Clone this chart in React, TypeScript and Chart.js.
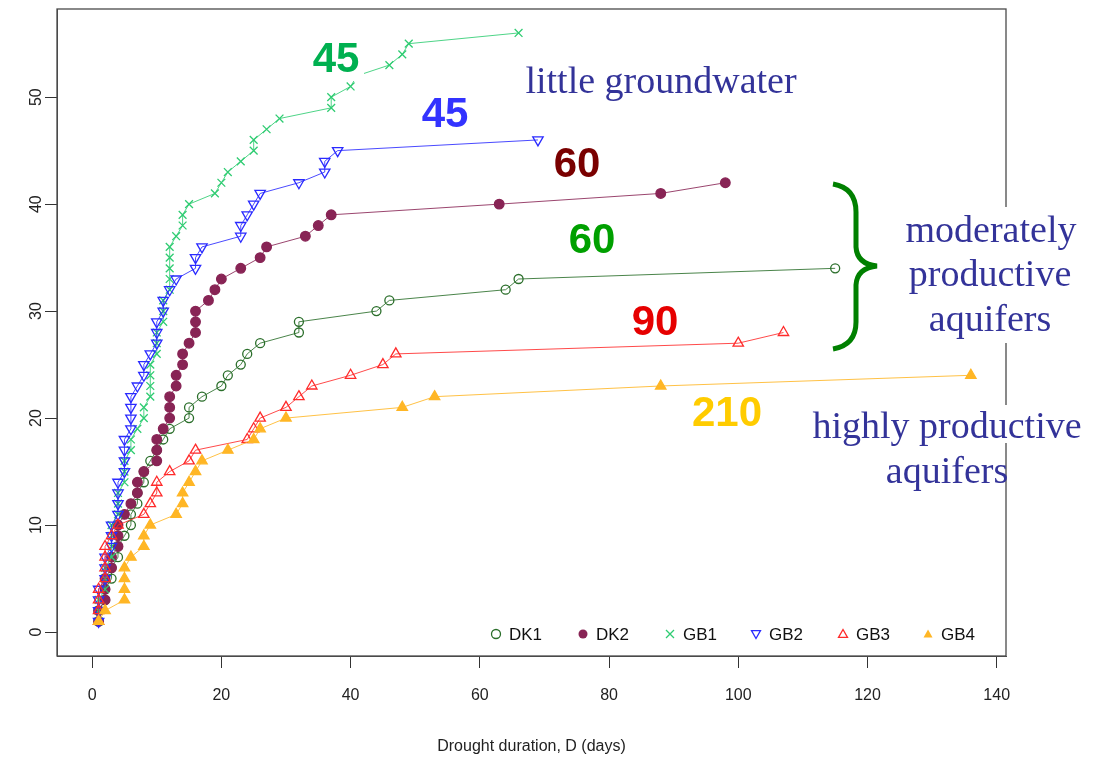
import React, { useEffect, useRef } from 'react';
import { Chart, registerables } from 'chart.js';

Chart.register(...registerables);

// ---------- data ----------
const xTicks = [0, 20, 40, 60, 80, 100, 120, 140];
const yTicks = [0, 10, 20, 30, 40, 50];
const seriesNames = ['DK1', 'DK2', 'GB1', 'GB2', 'GB3', 'GB4'];

const dk1X = [1, 1, 2, 2, 3, 3, 4, 4, 5, 6, 6, 7, 7, 8, 8, 9, 10, 11, 12, 15, 15, 17, 20, 21, 23, 24, 26, 32, 32, 44, 46, 64, 66, 115];
const dk1Y = [1, 2, 3, 4, 5, 6, 7, 8, 9, 10, 11, 12, 13, 14, 15, 16, 17, 18, 19, 20, 21, 22, 23, 24, 25, 26, 27, 28, 29, 30, 31, 32, 33, 34];

const dk2X = [1, 1, 2, 2, 2, 3, 3, 4, 4, 4, 5, 6, 7, 7, 8, 10, 10, 10, 11, 12, 12, 12, 13, 13, 14, 14, 15, 16, 16, 16, 18, 19, 20, 23, 26, 27, 33, 35, 37, 63, 88, 98];
const dk2Y = [1, 2, 3, 4, 5, 6, 7, 8, 9, 10, 11, 12, 13, 14, 15, 16, 17, 18, 19, 20, 21, 22, 23, 24, 25, 26, 27, 28, 29, 30, 31, 32, 33, 34, 35, 36, 37, 38, 39, 40, 41, 42];

const gb1X = [1, 1, 1, 2, 2, 2, 3, 3, 3, 3, 4, 4, 4, 5, 5, 5, 6, 6, 7, 8, 8, 9, 9, 9, 9, 10, 10, 10, 11, 11, 11, 12, 12, 12, 12, 12, 13, 14, 14, 15, 19, 20, 21, 23, 25, 25, 27, 29, 37, 37, 40, 41, 46, 48, 49, 66];
const gb1Y = [1, 2, 3, 4, 5, 6, 7, 8, 9, 10, 11, 12, 13, 14, 15, 16, 17, 18, 19, 20, 21, 22, 23, 24, 25, 26, 27, 28, 29, 30, 31, 32, 33, 34, 35, 36, 37, 38, 39, 40, 41, 42, 43, 44, 45, 46, 47, 48, 49, 50, 51, 52, 53, 54, 55, 56];

const gb2X = [1, 1, 1, 1, 2, 2, 2, 3, 3, 3, 4, 4, 4, 4, 5, 5, 5, 5, 6, 6, 6, 6, 7, 8, 8, 9, 10, 10, 10, 11, 11, 12, 13, 16, 16, 17, 23, 23, 24, 25, 26, 32, 36, 36, 38, 69];
const gb2Y = [1, 2, 3, 4, 5, 6, 7, 8, 9, 10, 11, 12, 13, 14, 15, 16, 17, 18, 19, 20, 21, 22, 23, 24, 25, 26, 27, 28, 29, 30, 31, 32, 33, 34, 35, 36, 37, 38, 39, 40, 41, 42, 43, 44, 45, 46];

const gb3X = [1, 1, 1, 1, 2, 2, 2, 2, 3, 4, 8, 9, 10, 10, 12, 15, 16, 24, 25, 26, 30, 32, 34, 40, 45, 47, 100, 107];
const gb3Y = [1, 2, 3, 4, 5, 6, 7, 8, 9, 10, 11, 12, 13, 14, 15, 16, 17, 18, 19, 20, 21, 22, 23, 24, 25, 26, 27, 28];

const gb4X = [1, 2, 5, 5, 5, 5, 6, 8, 8, 9, 13, 14, 14, 15, 16, 17, 21, 25, 26, 30, 48, 53, 88, 136];
const gb4Y = [1, 2, 3, 4, 5, 6, 7, 8, 9, 10, 11, 12, 13, 14, 15, 16, 17, 18, 19, 20, 21, 22, 23, 24];

const numberLabels = ['45', '45', '60', '60', '90', '210'];
const xTitle = 'Drought duration, D (days)';
const textLittle = 'little groundwater';
const textModerate = ['moderately', 'productive', 'aquifers'];
const textHigh = ['highly productive', 'aquifers'];

// ---------- styles ----------
const colors = ['#2a6e2a', '#882455', '#2fcc72', '#2a2aff', '#ff2a2a', '#ffb625'];
const SANS = '"Liberation Sans", Arial, sans-serif';
const SERIF = '"Liberation Serif", "Times New Roman", serif';

function lineColor(hex: string, a: number) {
  const r = parseInt(hex.slice(1, 3), 16);
  const g = parseInt(hex.slice(3, 5), 16);
  const b = parseInt(hex.slice(5, 7), 16);
  return `rgba(${r},${g},${b},${a})`;
}

function pts(xs: number[], ys: number[]) {
  return xs.map((x, i) => ({ x, y: ys[i] }));
}

function drawMarker(ctx: CanvasRenderingContext2D, kind: string, x: number, y: number, r: number, color: string) {
  ctx.save();
  ctx.strokeStyle = color;
  ctx.fillStyle = color;
  ctx.lineWidth = 1.3;
  ctx.beginPath();
  if (kind === 'circleOpen' || kind === 'circleFill') {
    ctx.arc(x, y, r, 0, Math.PI * 2);
    if (kind === 'circleFill') ctx.fill(); else ctx.stroke();
  } else if (kind === 'cross') {
    ctx.moveTo(x - r, y - r); ctx.lineTo(x + r, y + r);
    ctx.moveTo(x + r, y - r); ctx.lineTo(x - r, y + r);
    ctx.stroke();
  } else if (kind === 'triDown') {
    ctx.moveTo(x - r, y - r * 0.75); ctx.lineTo(x + r, y - r * 0.75); ctx.lineTo(x, y + r); ctx.closePath();
    ctx.stroke();
  } else {
    ctx.moveTo(x - r, y + r * 0.75); ctx.lineTo(x + r, y + r * 0.75); ctx.lineTo(x, y - r); ctx.closePath();
    if (kind === 'triFill') ctx.fill(); else ctx.stroke();
  }
  ctx.restore();
}

const decorPlugin = {
  id: 'decor',
  afterDraw(chart: any) {
    const { ctx, chartArea: a, scales } = chart;
    ctx.save();
    // plot box
    ctx.strokeStyle = '#4a4a4a';
    ctx.lineWidth = 1.3;
    ctx.strokeRect(a.left, a.top, a.right - a.left, a.bottom - a.top);

    // y tick labels (rotated like R)
    ctx.fillStyle = '#222';
    ctx.font = `16px ${SANS}`;
    ctx.textAlign = 'center';
    ctx.textBaseline = 'middle';
    yTicks.forEach((v) => {
      const py = scales.y.getPixelForValue(v);
      ctx.save();
      ctx.translate(37, py);
      ctx.rotate(-Math.PI / 2);
      ctx.fillText(String(v), 0, 0);
      ctx.restore();
    });

    // white backgrounds behind labels
    ctx.fillStyle = '#ffffff';
    ctx.fillRect(306, 32, 58, 49);
    ctx.fillRect(898, 207, 186, 136);
    ctx.fillRect(805, 405, 283, 38);

    // bold numbers
    ctx.font = `bold 42px ${SANS}`;
    ctx.textAlign = 'center';
    ctx.textBaseline = 'alphabetic';
    const numPos = [
      [336, 72, '#00b050'],
      [445, 127, '#3333ff'],
      [577, 177, '#7a0000'],
      [592, 253, '#00a000'],
      [655, 335, '#e60000'],
      [727, 426, '#ffcc00'],
    ];
    numberLabels.forEach((t, i) => {
      ctx.fillStyle = numPos[i][2] as string;
      ctx.fillText(t, numPos[i][0] as number, numPos[i][1] as number);
    });

    // serif texts
    ctx.fillStyle = '#333399';
    ctx.font = `38px ${SERIF}`;
    ctx.fillText(textLittle, 661, 93);
    ctx.fillText(textModerate[0], 991, 242);
    ctx.fillText(textModerate[1], 990, 286);
    ctx.fillText(textModerate[2], 990, 331);
    ctx.fillText(textHigh[0], 947, 438);
    ctx.fillText(textHigh[1], 947, 483);

    // brace
    ctx.strokeStyle = '#008000';
    ctx.lineWidth = 5;
    ctx.lineCap = 'butt';
    ctx.beginPath();
    ctx.moveTo(833, 184);
    ctx.quadraticCurveTo(856, 188, 856, 212);
    ctx.lineTo(856, 247);
    ctx.quadraticCurveTo(857, 264, 877, 266);
    ctx.quadraticCurveTo(857, 268, 856, 285);
    ctx.lineTo(856, 322);
    ctx.quadraticCurveTo(856, 345, 833, 349);
    ctx.stroke();

    // legend
    const kinds = ['circleOpen', 'circleFill', 'cross', 'triDown', 'triUp', 'triFill'];
    const mx = [496, 583, 670, 756, 843, 928];
    const ly = 634;
    ctx.font = `17px ${SANS}`;
    ctx.textAlign = 'left';
    ctx.textBaseline = 'middle';
    seriesNames.forEach((n, i) => {
      drawMarker(ctx, kinds[i], mx[i], ly, kinds[i] === 'cross' ? 4 : 4.5, colors[i]);
      ctx.fillStyle = '#111';
      ctx.fillText(n, mx[i] + 13, ly + 1);
    });
    ctx.restore();
  },
};

export default function App() {
  const ref = useRef<HTMLCanvasElement>(null);

  useEffect(() => {
    document.body.style.margin = '0';
    document.body.style.background = '#ffffff';
    const canvas = ref.current!;
    const seriesData = [
      pts(dk1X, dk1Y),
      pts(dk2X, dk2Y),
      pts(gb1X, gb1Y),
      pts(gb2X, gb2Y),
      pts(gb3X, gb3Y),
      pts(gb4X, gb4Y),
    ];
    const pStyle: any[] = ['circle', 'circle', 'crossRot', 'triangle', 'triangle', 'triangle'];
    const pRot = [0, 0, 0, 180, 0, 0];
    const pRad = [4.5, 4.8, 5.5, 6, 6, 6];
    const filled = [false, true, false, false, false, true];

    const datasets = seriesData.map((d, i) => ({
      label: seriesNames[i],
      data: d,
      showLine: true,
      borderColor: lineColor(colors[i], 0.85),
      borderWidth: 1,
      pointStyle: pStyle[i],
      pointRotation: pRot[i],
      pointRadius: pRad[i],
      pointBorderWidth: 1.3,
      pointBorderColor: colors[i],
      pointBackgroundColor: filled[i] ? colors[i] : 'rgba(0,0,0,0)',
      fill: false,
      tension: 0,
      order: 6 - i,
    }));

    const chart = new Chart(canvas, {
      type: 'scatter',
      data: { datasets },
      options: {
        animation: false,
        responsive: false,
        devicePixelRatio: 1,
        layout: { padding: { top: 9, right: 95, left: 0, bottom: 0 } },
        plugins: { legend: { display: false }, tooltip: { enabled: false } },
        scales: {
          x: {
            type: 'linear',
            min: -5.44,
            max: 141.44,
            afterBuildTicks: (s: any) => { s.ticks = xTicks.map((v) => ({ value: v })); },
            afterFit: (s: any) => { s.height = 102; },
            grid: { display: true, drawOnChartArea: false, drawTicks: true, tickLength: 12, color: '#333' },
            border: { display: true, color: '#4a4a4a' },
            ticks: { color: '#222', font: { family: SANS, size: 16 }, padding: 18, maxRotation: 0, autoSkip: false },
            title: { display: true, text: xTitle, color: '#222', font: { family: SANS, size: 16 }, padding: { top: 0, bottom: 2 } },
          },
          y: {
            type: 'linear',
            min: -2.24,
            max: 58.24,
            afterBuildTicks: (s: any) => { s.ticks = yTicks.map((v) => ({ value: v })); },
            afterFit: (s: any) => { s.width = 57; },
            grid: { display: true, drawOnChartArea: false, drawTicks: true, tickLength: 12, color: '#333' },
            border: { display: true, color: '#4a4a4a' },
            ticks: { display: false },
          },
        },
      },
      plugins: [decorPlugin],
    } as any);
    return () => chart.destroy();
  }, []);

  return (
    <div style={{ width: 1101, height: 758, background: '#fff' }}>
      <canvas ref={ref} width={1101} height={758} style={{ display: 'block' }} />
    </div>
  );
}
